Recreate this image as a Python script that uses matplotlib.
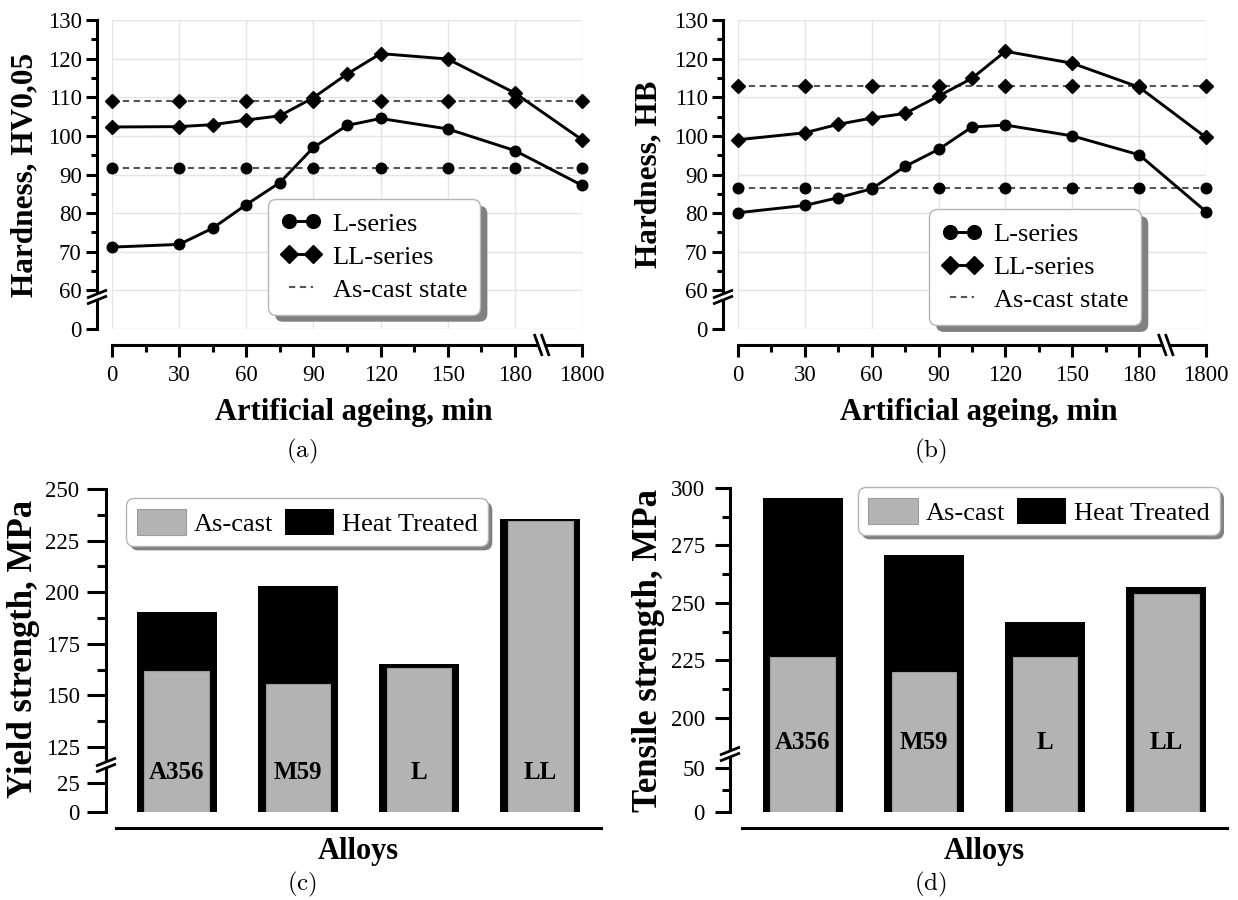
import numpy as np
import matplotlib
matplotlib.use('Agg')
import matplotlib.pyplot as plt
from matplotlib.patches import FancyBboxPatch
from matplotlib.transforms import IdentityTransform, blended_transform_factory

plt.rcParams['font.family'] = ['Liberation Serif', 'DejaVu Serif']
plt.rcParams['mathtext.fontset'] = 'cm'

# ---------------- data ----------------
ageing_min = [0, 30, 45, 60, 75, 90, 105, 120, 150, 180, 1800]
ascast_min = [0, 30, 60, 90, 120, 150, 180, 1800]
x_major_ticks = [0, 30, 60, 90, 120, 150, 180, 1800]
x_minor_ticks = [15, 45, 75, 105, 135, 165]
hard_major_ticks = [0, 60, 70, 80, 90, 100, 110, 120, 130]
hard_minor_ticks = [65, 75, 85, 95, 105, 115, 125]

hv_L = [71.2, 71.9, 76.1, 82.2, 87.9, 97.0, 102.7, 104.5, 101.8, 96.2, 87.2]
hv_LL = [102.3, 102.4, 102.9, 104.1, 105.2, 109.9, 116.0, 121.3, 119.9, 111.1, 99.0]
hv_L_ascast = [91.8, 91.8, 91.8, 91.8, 91.8, 91.8, 91.8, 91.8]
hv_LL_ascast = [109.1, 109.1, 109.1, 109.1, 109.1, 109.1, 109.1, 109.1]

hb_L = [80.1, 82.0, 84.0, 86.3, 92.1, 96.5, 102.3, 102.8, 100.0, 95.1, 80.4]
hb_LL = [99.0, 100.8, 103.0, 104.6, 105.8, 110.3, 114.9, 121.9, 118.8, 112.6, 99.6]
hb_L_ascast = [86.5, 86.5, 86.5, 86.5, 86.5, 86.5, 86.5, 86.5]
hb_LL_ascast = [112.9, 112.9, 112.9, 112.9, 112.9, 112.9, 112.9, 112.9]

alloys = ['A356', 'M59', 'L', 'LL']
ys_ascast = [161.8, 155.3, 163.4, 234.7]
ys_ht = [190.6, 203.2, 165.3, 235.3]
uts_ascast = [226.6, 219.8, 226.6, 253.9]
uts_ht = [295.8, 271.0, 241.6, 257.1]

ys_major_ticks = [0, 25, 125, 150, 175, 200, 225, 250]
ys_minor_ticks = [137.5, 162.5, 187.5, 212.5, 237.5]
uts_major_ticks = [0, 50, 200, 225, 250, 275, 300]
uts_minor_ticks = [25, 212.5, 237.5, 262.5, 287.5]

# ---------------- figure ----------------
FW, FH = 1238, 900
fig = plt.figure(figsize=(FW / 100, FH / 100), dpi=100)


def px_axes(l, t, r, b):
    return fig.add_axes([l / FW, 1 - b / FH, (r - l) / FW, (b - t) / FH])


# broken scales
def x_fwd(x):
    x = np.asarray(x, float)
    return np.where(x <= 195, x, 195 + (x - 195) * 15.0 / 1605.0)


def x_inv(p):
    p = np.asarray(p, float)
    return np.where(p <= 195, p, 195 + (p - 195) * 1605.0 / 15.0)


def yh_fwd(v):
    v = np.asarray(v, float)
    return np.where(v >= 55, v, 50 + v * 5.0 / 55.0)


def yh_inv(p):
    p = np.asarray(p, float)
    return np.where(p >= 55, p, (p - 50) * 11.0)


def interp_scale(vpts, ppts):
    return (lambda v: np.interp(v, vpts, ppts), lambda p: np.interp(p, ppts, vpts))


def ax_px(ax):
    bb = ax.get_position()
    return bb.width * FW, bb.height * FH


def y_break(ax, yfrac, out_px):
    W, H = ax_px(ax)
    xc = -out_px / W
    ax.plot([xc, xc], [yfrac - 3.0 / H, yfrac + 3.0 / H], transform=ax.transAxes,
            color='white', lw=4, clip_on=False, zorder=6, solid_capstyle='butt')
    for dy in (-3.0, 3.0):
        ax.plot([xc - 10 / W, xc + 10 / W], [yfrac + (dy - 4) / H, yfrac + (dy + 4) / H],
                transform=ax.transAxes, color='k', lw=2.0, clip_on=False, zorder=7,
                solid_capstyle='butt')


def x_break(ax, xfrac, out_px):
    W, H = ax_px(ax)
    yc = -out_px / H
    ax.plot([xfrac - 3.5 / W, xfrac + 3.5 / W], [yc, yc], transform=ax.transAxes,
            color='white', lw=4, clip_on=False, zorder=6, solid_capstyle='butt')
    for dx in (-3.5, 3.5):
        ax.plot([xfrac + (dx - 4) / W, xfrac + (dx + 4) / W], [yc + 11 / H, yc - 11 / H],
                transform=ax.transAxes, color='k', lw=2.0, clip_on=False, zorder=7,
                solid_capstyle='butt')


shadows = []
SPW = 2.2
MS_O = 7.6
MS_D = 7.4


def hardness_panel(ax, L, LL, Lac, LLac, ylabel, ylab_xy, leg_xy):
    ax.set_xscale('function', functions=(x_fwd, x_inv))
    ax.set_yscale('function', functions=(yh_fwd, yh_inv))
    ax.set_xlim(0, 1800)
    ax.set_ylim(0, 130)
    ax.set_facecolor('none')
    ax.grid(True, which='major', color='#e4e4e4', lw=1.0)
    ax.set_axisbelow(True)

    lc = ax.plot(ascast_min, Lac, ls=(0, (3, 2.2)), color='#555555', lw=1.5,
                 zorder=3, label='As-cast state')[0]
    ax.plot(ascast_min, LLac, ls=(0, (3, 2.2)), color='#555555', lw=1.5, zorder=3)
    ax.plot(ascast_min, Lac, ls='none', marker='o', ms=MS_O, color='k', zorder=4, clip_on=False)
    ax.plot(ascast_min, LLac, ls='none', marker='D', ms=MS_D, color='k', zorder=4, clip_on=False)
    l1 = ax.plot(ageing_min, L, '-o', color='k', lw=2.1, ms=MS_O, zorder=4, clip_on=False,
                 label='L-series')[0]
    l2 = ax.plot(ageing_min, LL, '-D', color='k', lw=2.1, ms=MS_D, zorder=4, clip_on=False,
                 label='LL-series')[0]

    ax.set_xticks(x_major_ticks, [str(t) for t in x_major_ticks])
    ax.set_xticks(x_minor_ticks, minor=True)
    ax.set_yticks(hard_major_ticks, [str(t) for t in hard_major_ticks])
    ax.set_yticks(hard_minor_ticks, minor=True)
    ax.tick_params(axis='y', which='major', direction='out', length=8, width=SPW,
                   labelsize=16.5, pad=3)
    ax.tick_params(axis='y', which='minor', direction='out', length=4.5, width=SPW)
    ax.tick_params(axis='x', which='major', direction='out', length=8.5, width=SPW,
                   labelsize=16.5, pad=6)
    ax.tick_params(axis='x', which='minor', direction='out', length=5, width=SPW)

    for s in ('top', 'right'):
        ax.spines[s].set_visible(False)
    ax.spines['left'].set_position(('outward', 15 * 0.72))
    ax.spines['bottom'].set_position(('outward', 16 * 0.72))
    for s in ('left', 'bottom'):
        ax.spines[s].set_linewidth(SPW)

    ax.set_ylabel(ylabel, fontsize=22.5, fontweight='bold', va='center')
    ax.yaxis.set_label_coords(*ylab_xy)
    ax.set_xlabel('Artificial ageing, min', fontsize=22, fontweight='bold')
    ax.xaxis.set_label_coords(0.515, -0.223)

    leg = ax.legend([l1, l2, lc], ['L-series', 'LL-series', 'As-cast state'],
                    loc='upper left', bbox_to_anchor=leg_xy, borderaxespad=0,
                    fontsize=19, numpoints=2, markerscale=1.3, handlelength=1.5,
                    handletextpad=0.45, labelspacing=0.36, borderpad=0.5,
                    framealpha=1, edgecolor='#b5b5b5', fancybox=True)
    leg.get_frame().set_linewidth(1.0)
    leg.get_frame().set_boxstyle('round', pad=0, rounding_size=0.3)
    leg.set_zorder(10)
    shadows.append((ax, leg, 7))

    y_break(ax, 0.1036, 15)
    x_break(ax, 192.0 / 210.0, 16)


def bar_panel(ax, ascast, ht, vpts, ppts, ylim, ymaj, ymin, ylabel, ylab_xy,
              leg_xy, out_left, tick_len, label_yfrac, brk_frac, lbl_pad):
    ax.set_yscale('function', functions=interp_scale(vpts, ppts))
    xs = np.arange(len(alloys))
    bh = ax.bar(xs, ht, width=0.66, color='k', zorder=2, label='Heat Treated')
    ba = ax.bar(xs, ascast, width=0.53, color='#b3b3b3', edgecolor='#9c9c9c', lw=0.8,
                zorder=3, label='As-cast')
    ax.set_xlim(-0.5, 3.5)
    ax.set_ylim(*ylim)
    ax.set_facecolor('none')
    trans = blended_transform_factory(ax.transData, ax.transAxes)
    for i, name in enumerate(alloys):
        ax.text(xs[i], label_yfrac, name, transform=trans, ha='center', va='center',
                fontsize=18, fontweight='bold', zorder=5)

    ax.set_yticks(ymaj, [str(int(t)) for t in ymaj])
    ax.set_yticks(ymin, minor=True)
    ax.tick_params(axis='y', which='major', direction='out', length=tick_len, width=SPW,
                   labelsize=16.5, pad=lbl_pad)
    ax.tick_params(axis='y', which='minor', direction='out', length=tick_len * 0.5, width=SPW)
    ax.tick_params(axis='x', bottom=False, labelbottom=False)
    for s in ('top', 'right'):
        ax.spines[s].set_visible(False)
    ax.spines['left'].set_position(('outward', out_left * 0.72))
    ax.spines['bottom'].set_position(('outward', 16 * 0.72))
    for s in ('left', 'bottom'):
        ax.spines[s].set_linewidth(SPW)

    ax.set_ylabel(ylabel, fontsize=25, fontweight='bold', va='center')
    ax.yaxis.set_label_coords(*ylab_xy)
    ax.set_xlabel('Alloys', fontsize=22, fontweight='bold')
    ax.xaxis.set_label_coords(0.5, -0.077)

    leg = ax.legend([ba, bh], ['As-cast', 'Heat Treated'], ncol=2, loc='upper left',
                    bbox_to_anchor=leg_xy, borderaxespad=0, fontsize=19,
                    handlelength=1.86, handleheight=1.17, handletextpad=0.3,
                    columnspacing=0.45, borderpad=0.4, framealpha=1,
                    edgecolor='#b5b5b5', fancybox=True)
    leg.get_frame().set_linewidth(1.0)
    leg.get_frame().set_boxstyle('round', pad=0, rounding_size=0.3)
    leg.set_zorder(10)
    shadows.append((ax, leg, 4))

    y_break(ax, brk_frac, out_left)


ax_a = px_axes(112, 20, 582, 329)
ax_b = px_axes(738, 20, 1206, 329)
ax_c = px_axes(116, 489, 601, 812)
ax_d = px_axes(742, 488, 1227, 812)

hardness_panel(ax_a, hv_L, hv_LL, hv_L_ascast, hv_LL_ascast, 'Hardness, HV0,05',
               (-0.185, 0.5), (0.332, 0.421))
hardness_panel(ax_b, hb_L, hb_LL, hb_L_ascast, hb_LL_ascast, 'Hardness, HB',
               (-0.19, 0.5), (0.408, 0.388))

bar_panel(ax_c, ys_ascast, ys_ht, [0, 40.4, 116.3, 1000], [93.5, 116.2, 116.3, 1000],
          (0, 250), ys_major_ticks, ys_minor_ticks, 'Yield strength, MPa', (-0.19, 0.505),
          (0.021, 0.972), 10, 13.5, 0.121, 0.1455, 5.5)
bar_panel(ax_d, uts_ascast, uts_ht, [0, 68, 185.3, 1000], [159.1, 185.2, 185.3, 1000],
          (0, 300), uts_major_ticks, uts_minor_ticks, 'Tensile strength, MPa', (-0.192, 0.497),
          (0.239, 1.003), 12, 11, 0.216, 0.179, 7)

for txt, x, y in [('(a)', 302, 451), ('(b)', 930, 451), ('(c)', 302, 884), ('(d)', 930, 884)]:
    fig.text(x / FW, 1 - y / FH, r'$\mathrm{' + txt + '}$', ha='center', va='center',
             fontsize=18)

# legend shadows (need a first draw to know legend extents)
fig.canvas.draw()
for ax, leg, off in shadows:
    bb = leg.get_frame().get_window_extent()
    sh = FancyBboxPatch((bb.x0 + off, bb.y0 - off), bb.width, bb.height,
                        boxstyle='round,pad=0,rounding_size=8', transform=IdentityTransform(),
                        facecolor='#808080', edgecolor='none', zorder=9.5, clip_on=False)
    ax.add_artist(sh)

fig.savefig('out.png', dpi=100)
